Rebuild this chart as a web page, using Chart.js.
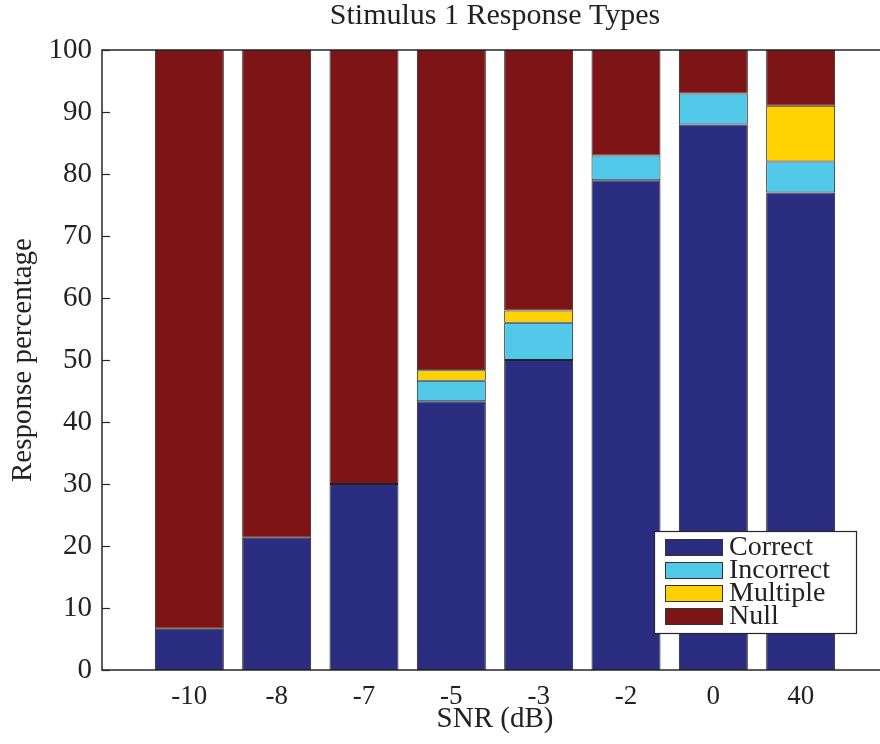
<!DOCTYPE html>
<html>
<head>
<meta charset="utf-8">
<script src="https://cdn.jsdelivr.net/npm/chart.js@4/dist/chart.umd.min.js"></script>
<style>
	html, body { margin: 0; padding: 0; background: #fff; overflow: hidden; }
	#wrap { position: relative; width: 900px; height: 744px; }
</style>
</head>
<body>
<div id="wrap"><canvas id="chart"></canvas></div>
<script>
// категории SNR (пустые строки по краям - отступы оси)
const snrLabels = ['', '-10', '-8', '-7', '-5', '-3', '-2', '0', '40', ''];
// проценты ответов по типам
const correct = [6.67, 21.33, 30, 43.33, 50, 79, 88, 77];
const incorrect = [0, 0, 0, 3.33, 6, 4, 5, 5];
const multiple = [0, 0, 0, 1.67, 2, 0, 0, 9];
const nullResp = [93.33, 78.67, 70, 51.67, 42, 17, 7, 9];
const yTicks = [0, 10, 20, 30, 40, 50, 60, 70, 80, 90, 100];
const chartTitle = 'Stimulus 1 Response Types';

const serif = '"Liberation Serif", "DejaVu Serif", serif';

function pad(arr) {
	return [null, ...arr, null];
}

// рамка осей + внутренние засечки + заголовок по центру осей
const axesFrame = {
	id: 'axesFrame',
	afterDatasetsDraw(chart) {
		const { ctx, chartArea: { left, top, right, bottom }, scales: { y } } = chart;
		ctx.save();
		ctx.strokeStyle = '#262626';
		ctx.lineWidth = 1.5;
		ctx.strokeRect(left, top, right - left, bottom - top);
		ctx.lineWidth = 1.2;
		yTicks.forEach((v) => {
			const py = Math.round(y.getPixelForValue(v)) + 0.5;
			ctx.beginPath();
			ctx.moveTo(left, py);
			ctx.lineTo(left + 8, py);
			ctx.stroke();
		});
		ctx.fillStyle = '#222';
		ctx.font = '30px ' + serif;
		ctx.textAlign = 'center';
		ctx.textBaseline = 'middle';
		ctx.fillText(chartTitle, (left + right) / 2, 16);
		ctx.restore();
	},
};

// легенда внутри поля диаграммы
const innerLegend = {
	id: 'innerLegend',
	afterDraw(chart) {
		const { ctx } = chart;
		const x0 = 654, y0 = 531, w = 202, h = 102;
		ctx.save();
		ctx.fillStyle = '#fff';
		ctx.fillRect(x0, y0, w, h);
		ctx.strokeStyle = '#262626';
		ctx.lineWidth = 1.2;
		ctx.strokeRect(x0 + 0.5, y0 + 0.5, w, h);
		ctx.font = '28px ' + serif;
		ctx.textBaseline = 'middle';
		chart.data.datasets.forEach((ds, i) => {
			const cy = y0 + 16 + i * 23;
			ctx.fillStyle = ds.backgroundColor;
			ctx.fillRect(x0 + 11, cy - 8, 57, 16);
			ctx.strokeStyle = '#333';
			ctx.lineWidth = 1;
			ctx.strokeRect(x0 + 11.5, cy - 7.5, 57, 16);
			ctx.fillStyle = '#222';
			ctx.fillText(ds.label, x0 + 75, cy + 1);
		});
		ctx.restore();
	},
};

const mk = (label, data, color) => ({
	label: label,
	data: pad(data),
	backgroundColor: color,
	borderColor: '#222222',
	borderWidth: 1,
	borderSkipped: false,
	barPercentage: 0.79,
	categoryPercentage: 1,
});

new Chart(document.getElementById('chart'), {
	type: 'bar',
	data: {
		labels: snrLabels,
		datasets: [
			mk('Correct', correct, '#2B2D80'),
			mk('Incorrect', incorrect, '#53C9EA'),
			mk('Multiple', multiple, '#FFD100'),
			mk('Null', nullResp, '#7D1517'),
		],
	},
	options: {
		responsive: true,
		maintainAspectRatio: false,
		animation: false,
		layout: { padding: { left: 0, right: 12, top: 50, bottom: 0 } },
		plugins: {
			legend: { display: false },
			tooltip: { enabled: false },
			title: { display: false },
		},
		scales: {
			x: {
				stacked: true,
				offset: false,
				border: { display: false },
				grid: { display: false },
				ticks: {
					autoSkip: false,
					maxRotation: 0,
					color: '#222',
					padding: 3,
					font: { family: serif, size: 27 },
				},
				title: {
					display: true,
					text: 'SNR (dB)',
					color: '#222',
					padding: { top: 0, bottom: 7 },
					font: { family: serif, size: 29 },
				},
				afterFit: (scale) => { scale.height = 74; },
			},
			y: {
				stacked: true,
				min: 0,
				max: 100,
				border: { display: false },
				grid: { display: false },
				afterBuildTicks: (scale) => {
					scale.ticks = yTicks.map((v) => ({ value: v }));
				},
				ticks: {
					color: '#222',
					padding: 2,
					font: { family: serif, size: 29 },
				},
				title: {
					display: true,
					text: 'Response percentage',
					color: '#222',
					padding: { top: 6, bottom: 0 },
					font: { family: serif, size: 29 },
				},
				afterFit: (scale) => { scale.width = 102; },
			},
		},
	},
	plugins: [axesFrame, innerLegend],
});
</script>
</body>
</html>
